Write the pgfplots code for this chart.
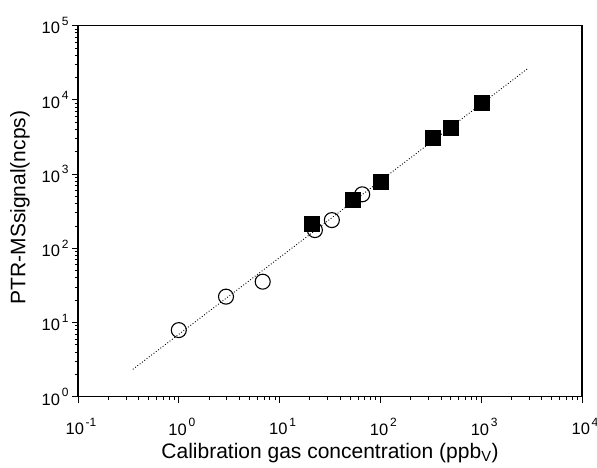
\documentclass[border=0pt]{standalone}
\usepackage{fontspec}
\setmainfont{Liberation Sans}
\usepackage{pgfplots}
\pgfplotsset{compat=1.18}
\newcommand\tp[1]{10\hspace{1.8bp}\raisebox{8.5bp}{\fontsize{12bp}{12bp}\selectfont #1}}
\begin{document}
\begin{tikzpicture}
\useasboundingbox (-78bp,-71.3bp) rectangle (519bp,396.7bp);
\begin{axis}[
  at={(0,0)}, anchor=south west,
  scale only axis, width=504bp, height=371bp,
  xmode=log, ymode=log,
  xmin=0.1, xmax=10000, ymin=1, ymax=100000,
  axis line style={line width=1.1bp},
  every tick/.style={black, line width=0.9bp},
  major tick length=6bp, minor tick length=3.5bp,
  tick align=outside, xtick pos=bottom, ytick pos=left,
  xtick={0.1,1,10,100,1000,10000},
  xticklabels={\tp{-1},\tp{0},\tp{1},\tp{2},\tp{3},\tp{4}},
  ytick={1,10,100,1000,10000,100000},
  yticklabels={\tp{0},\tp{1},\tp{2},\tp{3},\tp{4},\tp{5}},
  tick label style={font=\fontsize{16.5bp}{18bp}\selectfont},
  xticklabel style={yshift=-12bp, xshift=3bp},
  yticklabel style={xshift=0bp},
  xlabel={Calibration gas concentration (ppb\textsubscript{V})},
  ylabel={PTR-MSsignal(ncps)},
  label style={font=\fontsize{21bp}{24bp}\selectfont},
  xlabel style={at={(axis description cs:0.5,0)}, anchor=center, yshift=-56bp},
  ylabel style={at={(axis description cs:-0.115,0.51)}, anchor=center},
]
\addplot[black, dotted, line width=0.9bp] coordinates {(0.35,2.34) (2850,26000)};
\addplot[only marks, mark=o, mark size=7.5bp, mark options={black, line width=1.1bp}] coordinates {
  (1,7.9) (2.94,22.3) (6.8,35.5) (22.4,176) (33,240) (66,534)
};
\addplot[only marks, mark=square*, mark size=7.5bp, mark options={black, fill=black}] coordinates {
  (20.9,217) (53,457) (100,783) (333,3130) (501,4220) (1002,9290)
};
\end{axis}
\end{tikzpicture}
\end{document}
